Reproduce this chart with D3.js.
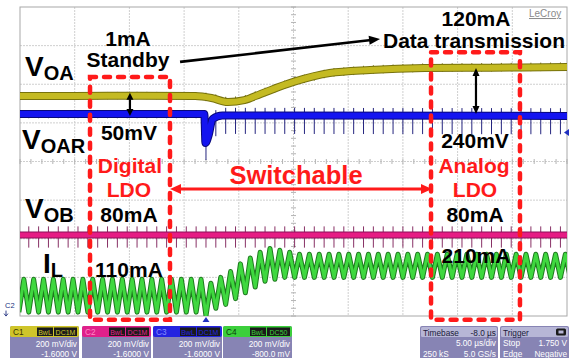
<!DOCTYPE html>
<html><head><meta charset="utf-8">
<script src="https://cdn.jsdelivr.net/npm/d3@7"></script>
<style>
html,body{margin:0;padding:0;background:#fff;}
svg{display:block;font-family:"Liberation Sans",Arial,sans-serif;}
</style></head><body>
<svg id="scope" width="571" height="358"></svg>
<script>
// ---- acquisition settings (shown in the channel / timebase boxes) ----
const channelNames   = ["C1", "C2", "C3", "C4"];
const couplingLabels = ["DC1M", "DC1M", "DC1M", "DC50"];
const voltsPerDiv    = [0.2, 0.2, 0.2, 0.2];
const offsets        = [-1.6, -1.6, -1.6, -0.8];
const scaleLabels    = ["200 mV/div", "200 mV/div", "200 mV/div", "200 mV/div"];
const offsetLabels   = ["-1.6000 V", "-1.6000 V", "-1.6000 V", "-800.0 mV"];
const timeDomain     = [-17, 33];          // µs, trigger at t = 0
const triggerLevel   = 1.75;               // V on C3

// ---- V_OA (C1), trace centre in volts ----
const voaTimes  = [-17, -12, -6, -1, 0.5, 2, 3.5, 5, 8, 11.3, 15, 20, 26, 33];
const voaValues = [1.939, 1.939, 1.941, 1.939, 1.929, 1.908, 1.918, 1.950, 2.012, 2.058, 2.074, 2.084, 2.086, 2.089];

// ---- V_OAR (C3) ----
const voarTimes  = [-17, -0.15, -0.05, 0.25, 0.6, 1.5, 33];
const voarValues = [1.846, 1.846, 1.696, 1.737, 1.820, 1.838, 1.836];

// ---- V_OB (C2) ----
const vobTimes  = [-17, 33];
const vobValues = [1.219, 1.219];

// ---- I_L (C4): switching instants (valley times), valley and peak levels ----
const ilTimes = [-17.1,-16.2,-15.3,-14.4,-13.5,-12.6,-11.7,-10.8,-9.9,-9.0,-8.1,-7.2,-6.3,-5.4,-4.5,-3.6,-2.7,-1.8,-0.9,
  0,0.9,1.8,2.7,3.6,4.5,5.4,6.3,7.2,8.1,
  9.0,9.9,10.8,11.7,12.6,13.5,14.4,15.3,16.2,17.1,18.0,18.9,19.8,20.7,21.6,22.5,23.4,24.3,25.2,26.1,27.0,27.9,28.8,29.7,30.6,31.5,32.4,33.3];
const ilLow = [0.02,0.02,0.02,0.02,0.02,0.02,0.02,0.02,0.02,0.02,0.02,0.02,0.02,0.02,0.02,0.02,0.02,0.02,0.02,
  0.0,0.04,0.06,0.09,0.12,0.15,0.18,0.19,0.20,0.20,
  0.20,0.20,0.20,0.20,0.20,0.20,0.20,0.20,0.20,0.20,0.20,0.20,0.20,0.20,0.20,0.20,0.20,0.20,0.20,0.20,0.20,0.20,0.20,0.20,0.20,0.20,0.20,0.20];
const ilHigh = [0.19,0.19,0.19,0.19,0.19,0.19,0.19,0.19,0.19,0.19,0.19,0.19,0.19,0.19,0.19,0.19,0.19,0.19,0.19,
  0.17,0.20,0.23,0.27,0.30,0.33,0.35,0.34,0.33,
  0.32,0.32,0.32,0.32,0.32,0.32,0.32,0.32,0.32,0.32,0.32,0.32,0.32,0.32,0.32,0.32,0.32,0.32,0.32,0.32,0.32,0.32,0.32,0.32,0.32,0.32,0.32,0.32,0.32];

// switching spikes coupled onto the voltage traces (V below / above the trace centre)
const spikeTraces     = ["voa", "voar", "vob"];
const spikeDownBefore = [0.018, 0.022, 0.065];
const spikeUpBefore   = [0.020, 0.020, 0.045];
const spikeDownAfter  = [0.020, 0.095, 0.065];
const spikeUpAfter    = [0.024, 0.040, 0.045];

const svg = d3.select("#scope");
const plot = {left: 20, right: 567, top: 7, bottom: 316};

const x = d3.scaleLinear().domain(timeDomain).range([plot.left, plot.right]);
const yDiv = d3.scaleLinear().domain([-4, 4]).range([plot.bottom, plot.top]);
const chY = (ch, v) => yDiv((v + offsets[ch]) / voltsPerDiv[ch]);

// ---- graticule ----
const g = svg.append("g");
const vLines = d3.range(1, 10).map(i => timeDomain[0] + i * 5);
const hLines = d3.range(-3, 4);
g.selectAll("line.vg").data(vLines).join("line")
  .attr("x1", d => x(d)).attr("x2", d => x(d)).attr("y1", plot.top).attr("y2", plot.bottom)
  .attr("stroke", "#cfcfcf").attr("stroke-width", 1).attr("stroke-dasharray", "2,1");
g.selectAll("line.hg").data(hLines).join("line")
  .attr("y1", d => yDiv(d)).attr("y2", d => yDiv(d)).attr("x1", plot.left).attr("x2", plot.right)
  .attr("stroke", "#cfcfcf").attr("stroke-width", 1).attr("stroke-dasharray", "2,1");
// minor ticks on the centre axes
const tc = timeDomain[0] + 25;
g.selectAll("line.tx").data(d3.range(0, 50.01, 1)).join("line")
  .attr("x1", d => x(timeDomain[0] + d)).attr("x2", d => x(timeDomain[0] + d))
  .attr("y1", yDiv(0) - 2.5).attr("y2", yDiv(0) + 2.5).attr("stroke", "#b4b4b4");
g.selectAll("line.ty").data(d3.range(-4, 4.01, 0.2)).join("line")
  .attr("y1", d => yDiv(d)).attr("y2", d => yDiv(d))
  .attr("x1", x(tc) - 2.5).attr("x2", x(tc) + 2.5).attr("stroke", "#b4b4b4");
g.append("rect").attr("x", plot.left).attr("y", plot.top)
  .attr("width", plot.right - plot.left).attr("height", plot.bottom - plot.top)
  .attr("fill", "none").attr("stroke", "#a8a8a8");

// ---- traces ----
svg.append("clipPath").attr("id", "clipPlot").append("rect")
  .attr("x", plot.left).attr("y", plot.top).attr("width", plot.right - plot.left).attr("height", plot.bottom - plot.top);
const tr = svg.append("g").attr("clip-path", "url(#clipPlot)");

function drawBand(ch, times, values, dark, light, width) {
  const pts = times.map((t, i) => [t, values[i]]);
  const line = d3.line().x(d => x(d[0])).y(d => chY(ch, d[1])).curve(d3.curveMonotoneX);
  tr.append("path").attr("d", line(pts)).attr("fill", "none")
    .attr("stroke", dark).attr("stroke-width", width + 2).attr("stroke-linejoin", "round");
  tr.append("path").attr("d", line(pts)).attr("fill", "none")
    .attr("stroke", light).attr("stroke-width", width).attr("stroke-linejoin", "round");
}

function drawSpikes(ch, idx, centre, dark) {
  tr.selectAll(null).data(ilTimes).join("line")
    .attr("x1", d => x(d)).attr("x2", d => x(d))
    .attr("y1", d => chY(ch, centre(d) + (d < 0 ? spikeUpBefore[idx] : spikeUpAfter[idx])))
    .attr("y2", d => chY(ch, centre(d) - (d < 0 ? spikeDownBefore[idx] : spikeDownAfter[idx])))
    .attr("stroke", dark).attr("stroke-width", 0.9);
}

const voaC = d3.scaleLinear().domain(voaTimes).range(voaValues);
const voarC = d3.scaleLinear().domain(voarTimes).range(voarValues);
const vobC = d3.scaleLinear().domain(vobTimes).range(vobValues);

drawSpikes(0, 0, voaC, "#6b6500");
drawBand(0, voaTimes, voaValues, "#77720c", "#c4ba22", 6);
drawSpikes(1, 2, vobC, "#7a1a55");
drawBand(1, vobTimes, vobValues, "#8a1058", "#e61c84", 5);
drawSpikes(2, 1, voarC, "#0c0c70");
drawBand(2, voarTimes, voarValues, "#08087a", "#1414f0", 6);

// inductor current: rising ramp from each valley to the following peak, then falling
const ilPts = [];
ilTimes.forEach((t, i) => {
  ilPts.push([t, ilLow[i]]);
  if (i < ilTimes.length - 1) ilPts.push([t + 0.5 * (ilTimes[i + 1] - t), ilHigh[i]]);
});
const ilLine = d3.line().x(d => x(d[0])).y(d => chY(3, d[1]));
tr.append("path").attr("d", ilLine(ilPts)).attr("fill", "none")
  .attr("stroke", "#1f7a1f").attr("stroke-width", 5).attr("stroke-linejoin", "round");
tr.append("path").attr("d", ilLine(ilPts)).attr("fill", "none")
  .attr("stroke", "#3fd83f").attr("stroke-width", 3).attr("stroke-linejoin", "round");

// ---- markers ----
svg.append("path")
  .attr("d", `M${x(0)},${plot.bottom + 1} l-3.5,5 h7 z`).attr("fill", "#2030c0");
svg.append("path")
  .attr("d", `M${plot.right - 3},${chY(2, triggerLevel)} l5,-3.5 v7 z`).attr("fill", "#2030c0");
svg.append("text").attr("x", 5).attr("y", yDiv(-3.78)).attr("font-size", 7.5)
  .attr("fill", "#203080").text("C2");
svg.append("path").attr("d", `M6,${yDiv(-3.86)} v5 m-2,-2 l2,2.5 l2,-2.5`)
  .attr("stroke", "#203080").attr("fill", "none").attr("stroke-width", 0.9);

// ---- annotations (positions in µs / screen divisions) ----
const ann = svg.append("g").attr("font-weight", "bold");
const RED = "#ff1a1a";
function label(t, d, txt, size, color, anchor) {
  return ann.append("text").attr("x", x(t)).attr("y", yDiv(d))
    .attr("font-size", size).attr("fill", color || "#000")
    .attr("text-anchor", anchor || "middle").text(txt);
}
function vLabel(t, d, main, sub) {
  const tx = ann.append("text").attr("x", x(t)).attr("y", yDiv(d)).attr("fill", "#000");
  tx.append("tspan").attr("font-size", 28).text(main);
  tx.append("tspan").attr("font-size", 20).attr("dy", 4).text(sub);
}

// dashed operating-mode boxes
const boxes = [
  {t0: -10.6, t1: -3.29, d0: 2.19, d1: -4.10},
  {t0: 20.57, t1: 28.70, d0: 2.83, d1: -4.10}
];
ann.selectAll("rect.box").data(boxes).join("rect")
  .attr("x", b => x(b.t0)).attr("y", b => yDiv(b.d0))
  .attr("width", b => x(b.t1) - x(b.t0)).attr("height", b => yDiv(b.d1) - yDiv(b.d0))
  .attr("fill", "none").attr("stroke", RED).attr("stroke-width", 4.5)
  .attr("stroke-dasharray", "6,8").attr("stroke-linecap", "round");

function arrowHead(xt, yt, ang, len, wid, color) {
  const c = Math.cos(ang), s = Math.sin(ang);
  const bx = xt - c * len, by = yt - s * len;
  ann.append("path")
    .attr("d", `M${xt},${yt} L${bx - s * wid},${by + c * wid} L${bx + s * wid},${by - c * wid} Z`)
    .attr("fill", color);
}
function arrow(t0, d0, t1, d1, color, w, both, hl, hw) {
  const x0 = x(t0), y0 = yDiv(d0), x1 = x(t1), y1 = yDiv(d1);
  const ang = Math.atan2(y1 - y0, x1 - x0);
  const c = Math.cos(ang), s = Math.sin(ang);
  ann.append("line")
    .attr("x1", both ? x0 + c * hl * 0.8 : x0).attr("y1", both ? y0 + s * hl * 0.8 : y0)
    .attr("x2", x1 - c * hl * 0.8).attr("y2", y1 - s * hl * 0.8)
    .attr("stroke", color).attr("stroke-width", w);
  arrowHead(x1, y1, ang, hl, hw, color);
  if (both) arrowHead(x0, y0, ang + Math.PI, hl, hw, color);
}
arrow(-2.37, 2.58, 15.91, 3.17, "#000", 2.6, false, 11, 4.5);
arrow(-6.95, 1.18, -6.95, 1.78, "#000", 2.2, true, 7, 3.5);
arrow(24.68, 1.23, 24.68, 2.42, "#000", 2.2, true, 8, 3.5);
arrow(-3.29, -0.71, 20.66, -0.71, RED, 3, true, 11, 5);

vLabel(-16.54, 2.21, "V", "OA");
vLabel(-16.82, 0.32, "V", "OAR");
vLabel(-16.54, -1.46, "V", "OB");
vLabel(-14.9, -2.89, "I", "L");

label(-7.13, 2.99, "1mA", 21);
label(-7.13, 2.45, "Standby", 21);
label(24.68, 3.51, "120mA", 21);
label(24.50, 2.94, "Data transmission", 21);
label(-7.04, 0.557, "50mV", 21);
label(-6.95, -0.30, "Digital", 21, RED);
label(-7.04, -0.92, "LDO", 21, RED);
label(-7.04, -1.57, "80mA", 21);
label(-7.04, -2.99, "110mA", 21);
label(24.59, 0.35, "240mV", 21);
label(24.50, -0.30, "Analog", 21, RED);
label(24.59, -0.92, "LDO", 21, RED);
label(24.59, -1.57, "80mA", 21);
label(24.68, -2.63, "210mA", 21);
label(8.23, -0.58, "Switchable", 25.5, RED);

svg.append("text").attr("x", x(31)).attr("y", yDiv(3.74)).attr("text-anchor", "middle")
  .attr("font-size", 10).attr("fill", "#8a8a8a").attr("text-decoration", "underline").text("LeCroy");

// ---- channel / timebase / trigger boxes ----
const chColors = ["#cfc52a", "#e0208a", "#2424e0", "#3ccf3c"];
const chNameColor = ["#3a3600", "#ff8ac6", "#8890ff", "#0b3a0b"];
const boxX = [10, 82, 153, 223], boxW = 69;
const info = svg.append("g").attr("font-size", 9);
const BODY = "#8784b4";
function condensed(sel, tx, ty, txt, anchor, fill) {
  sel.append("text").attr("transform", `translate(${tx},${ty}) scale(0.92,1)`)
    .attr("text-anchor", anchor).attr("fill", fill).text(txt);
}
channelNames.forEach((name, i) => {
  const bx = boxX[i];
  info.append("rect").attr("x", bx).attr("y", 326).attr("width", boxW).attr("height", 36)
    .attr("rx", 2).attr("fill", BODY);
  info.append("rect").attr("x", bx).attr("y", 326).attr("width", boxW).attr("height", 11)
    .attr("rx", 2).attr("fill", chColors[i]);
  condensed(info, bx + 3, 335, name, "start", chNameColor[i]);
  info.append("rect").attr("x", bx + 27).attr("y", 327.5).attr("width", 16).attr("height", 8.5).attr("fill", "#1a1a1a");
  info.append("rect").attr("x", bx + 44).attr("y", 327.5).attr("width", 23).attr("height", 8.5).attr("fill", "#1a1a1a");
  info.append("text").attr("x", bx + 35).attr("y", 334.6).attr("font-size", 7).attr("text-anchor", "middle")
    .attr("fill", chColors[i]).text("BwL");
  info.append("text").attr("x", bx + 55.5).attr("y", 334.6).attr("font-size", 7).attr("text-anchor", "middle")
    .attr("fill", chColors[i]).text(couplingLabels[i]);
  condensed(info, bx + boxW - 2, 346.5, scaleLabels[i], "end", "#fff");
  condensed(info, bx + boxW - 2, 356.5, offsetLabels[i], "end", "#fff");
});

const tbRows = [["Timebase", "-8.0 µs"], ["", "5.00 µs/div"], ["250 kS", "5.0 GS/s"]];
const trRows = [["Trigger", ""], ["Stop", "1.750 V"], ["Edge", "Negative"]];
[[420, 78, tbRows], [500, 69, trRows]].forEach(([bx, bw, rows]) => {
  info.append("rect").attr("x", bx).attr("y", 326).attr("width", bw).attr("height", 36)
    .attr("rx", 2).attr("fill", BODY);
  info.append("rect").attr("x", bx + 1).attr("y", 327).attr("width", bw - 2).attr("height", 10)
    .attr("rx", 1.5).attr("fill", "#b7b6d6");
  rows.forEach((r, k) => {
    const yy = 335.5 + k * 10.5;
    const col = k === 0 ? "#1a1a3a" : "#fff";
    if (r[0]) condensed(info, bx + 3, yy, r[0], "start", col);
    if (r[1]) condensed(info, bx + bw - 2, yy, r[1], "end", col);
  });
});
info.append("rect").attr("x", 556).attr("y", 328.5).attr("width", 10).attr("height", 7).attr("rx", 1.5).attr("fill", "#1a1a1a");
info.append("rect").attr("x", 558.5).attr("y", 330.5).attr("width", 5).attr("height", 3).attr("fill", "#b7b6d6");
</script>
</body></html>
